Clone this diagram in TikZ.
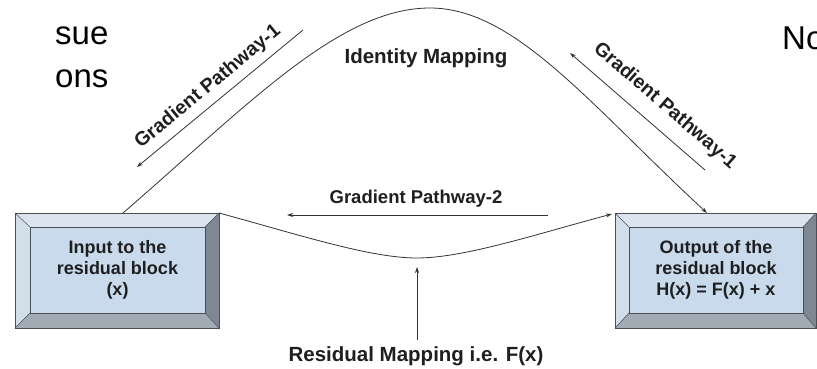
\documentclass[tikz,border=0pt]{standalone}
\usepackage{fontspec}
\setmainfont{Liberation Sans}
\usetikzlibrary{arrows.meta}
\definecolor{facec}{HTML}{C8DAEC}
\definecolor{btop}{HTML}{DCE5EF}
\definecolor{bleft}{HTML}{D2DEEA}
\definecolor{bright}{HTML}{7E8792}
\definecolor{bbot}{HTML}{A2AAB4}
\definecolor{edgec}{HTML}{4A4F55}
\definecolor{ink}{HTML}{333333}
\newcommand\bevbox[8]{%
 \fill[btop] (#1,#2) -- (#3,#2) -- (#7,#6) -- (#5,#6) -- cycle;
 \fill[bleft] (#1,#2) -- (#5,#6) -- (#5,#8) -- (#1,#4) -- cycle;
 \fill[bright] (#3,#2) -- (#3,#4) -- (#7,#8) -- (#7,#6) -- cycle;
 \fill[bbot] (#1,#4) -- (#3,#4) -- (#7,#8) -- (#5,#8) -- cycle;
 \draw[edgec, line width=0.8pt] (#1,#2) rectangle (#3,#4);
 \draw[edgec, line width=0.5pt] (#1,#2) -- (#5,#6) (#3,#2) -- (#7,#6) (#3,#4) -- (#7,#8) (#1,#4) -- (#5,#8);
}
\begin{document}
\begin{tikzpicture}[x=1pt,y=-1pt,
 conn/.style={draw=ink, line width=0.8pt},
 arr/.style={conn, -{Stealth[length=6pt,width=4pt]}},
 boxtext/.style={font=\bfseries\fontsize{18}{21}\selectfont, align=center, text=black!88},
 lab/.style={font=\bfseries\fontsize{18.5}{22}\selectfont, text=black!88},
 big/.style={font=\bfseries\fontsize{20.5}{24}\selectfont, text=black!88},
 gp/.style={font=\bfseries\fontsize{19.5}{23}\selectfont, text=black!88},
 frag/.style={font=\fontsize{33}{38}\selectfont, text=black, anchor=base west, inner sep=0pt},
 facebox/.style={fill=facec, draw=edgec, line width=0.7pt, inner sep=0pt, minimum width=175pt, minimum height=86pt}
]
\useasboundingbox (0,0) rectangle (817,369);
\fill[white] (0,0) rectangle (817,369);

% boxes
\bevbox{15}{213}{219}{328}{30}{227}{205}{313}
\node[facebox, boxtext] (inL) at (117.5,270) {Input to the\\residual block\\(x)};
\bevbox{615}{213}{816}{328}{629}{227}{803}{313}
\node[facebox, boxtext, minimum width=174pt] (inR) at (716,270) {Output of the\\residual block\\H(x) = F(x) + x};

% coordinates
\coordinate (Ltop) at (123,213);
\coordinate (Rtop) at (707,213);
\coordinate (Lcorner) at (219,213);
\coordinate (Rcorner) at (612,214);
\coordinate (gp2s) at (548,215);
\coordinate (gp2e) at (287,215);
\coordinate (rs) at (417,340);
\coordinate (re) at (417,267);
\coordinate (gl1s) at (303,30);
\coordinate (gl1e) at (137,167);
\coordinate (gr1s) at (705,170);
\coordinate (gr1e) at (570,53);

% identity mapping (bell)
\draw[arr] (Ltop) .. controls (250,103) and (340,8) .. (430,8) .. controls (515,8) and (590,105) .. (Rtop);
% residual mapping (valley)
\draw[arr] (Lcorner) .. controls (300,235) and (370,258) .. (417,258) .. controls (465,258) and (540,233) .. (Rcorner);

% gradient arrows
\draw[arr] (gp2s) -- (gp2e);
\draw[arr] (rs) -- (re);
\draw[arr] (gl1s) -- (gl1e);
\draw[arr] (gr1s) -- (gr1e);

% labels
\node[big, anchor=base] (idm) at (426,64) {Identity Mapping};
\node[lab, anchor=base] (gp2) at (416,203) {Gradient Pathway-2};
\node[big, anchor=base] (res) at (416,361) {Residual Mapping i.e. F(x)};
\node[gp, rotate=39.5] (gl1) at (208,87) {Gradient Pathway-1};
\node[gp, rotate=-41] (gr1) at (665,106) {Gradient Pathway-1};

% cropped fragments
\node[frag] (f1) at (55,45) {sue};
\node[frag] (f2) at (55,88) {ons};
\node[frag] (f3) at (782,50) {No};
\end{tikzpicture}
\end{document}
